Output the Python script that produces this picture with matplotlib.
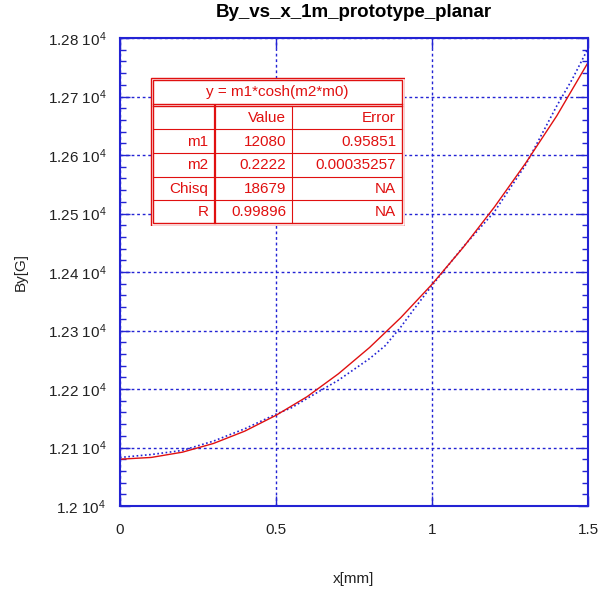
import matplotlib
matplotlib.use("Agg")
import matplotlib.pyplot as plt
from matplotlib.ticker import MultipleLocator, FuncFormatter

plt.rcParams["font.family"] = ["Liberation Sans", "DejaVu Sans"]
plt.rcParams["mathtext.fontset"] = "custom"
plt.rcParams["mathtext.rm"] = "Liberation Sans"
plt.rcParams["mathtext.default"] = "regular"

# measured field (blue dotted)
x_meas = [0.0, 0.1, 0.2, 0.3, 0.4, 0.5, 0.55, 0.6, 0.7, 0.8, 0.85, 0.9, 0.95,
          1.0, 1.1, 1.2, 1.3, 1.4, 1.45, 1.5]
by_meas = [12083, 12088, 12095, 12111, 12132, 12157, 12168, 12184, 12215,
           12252, 12274, 12306, 12342, 12377, 12443, 12503, 12583, 12684,
           12730, 12782]

# fitted curve (red)
x_fit = [0.0, 0.1, 0.2, 0.3, 0.4, 0.5, 0.6, 0.7, 0.8, 0.9, 1.0, 1.1, 1.2,
         1.3, 1.4, 1.5]
by_fit = [12080, 12083, 12092, 12107, 12128, 12155, 12187, 12226, 12271,
          12322, 12379, 12442, 12511, 12586, 12667, 12758]

fit_title = "y = m1*cosh(m2*m0)"
col_heads = ["", "Value", "Error"]
row_names = ["m1", "m2", "Chisq", "R"]
row_values = ["12080", "0.2222", "18679", "0.99896"]
row_errors = ["0.95851", "0.00035257", "NA", "NA"]

BLUE = "#2323d4"
RED = "#e01010"

W, H = 599, 592
fig = plt.figure(figsize=(W / 100, H / 100), dpi=100)
ax = fig.add_axes([120 / W, (H - 506) / H, 468 / W, 468 / H])

ax.plot(x_meas, by_meas, color=BLUE, lw=1.2, linestyle=(0, (1, 1.5)))
ax.plot(x_fit, by_fit, color=RED, lw=1.0)

ax.set_xlim(0, 1.5)
ax.set_ylim(12000, 12800)
ax.xaxis.set_major_locator(MultipleLocator(0.5))
ax.yaxis.set_major_locator(MultipleLocator(100))
ax.yaxis.set_minor_locator(MultipleLocator(20))
ax.xaxis.set_major_formatter(FuncFormatter(lambda v, p: f"{v:g}"))
ax.yaxis.set_major_formatter(FuncFormatter(lambda v, p: f"{v / 1e4:g} 10$^{{4}}$"))

ax.tick_params(which="both", direction="in", top=True, right=True,
               color=BLUE, labelsize=11, labelcolor="#222222")
ax.tick_params(which="major", length=7, width=1)
ax.tick_params(which="minor", length=4, width=1)
ax.tick_params(axis="y", pad=10)
ax.tick_params(axis="x", pad=12)
for s in ax.spines.values():
    s.set_color(BLUE)
    s.set_linewidth(1.5)

ax.grid(True, which="major", color=BLUE, linestyle=(0, (2, 2)), lw=1)

ax.set_title("By_vs_x_1m_prototype_planar", fontsize=13.5, fontweight="bold",
             pad=15)
ax.set_xlabel("x[mm]", fontsize=11, color="#222222")
ax.set_ylabel("By[G]", fontsize=11, color="#222222")
ax.xaxis.set_label_coords(0.5, -0.141)
ax.yaxis.set_label_coords(-0.197, 0.5)

# fit result table, drawn in pixel units
tx = fig.add_axes([150 / W, 1 - 226 / H, 255 / W, 149 / H])
tx.set_xlim(0, 255)
tx.set_ylim(149, 0)
tx.axis("off")
tx.add_patch(plt.Rectangle((0.5, 0.5), 254, 148, fc="white", ec=RED, lw=1))
tx.add_patch(plt.Rectangle((3, 3), 249, 143, fc="none", ec=RED, lw=1))
tx.plot([3, 252], [26.5, 26.5], color=RED, lw=1)
tx.plot([3, 252], [29, 29], color=RED, lw=1)
row_y = [29, 52.3, 75.7, 99.7, 123, 146]
for yy in row_y[1:-1]:
    tx.plot([3, 252], [yy, yy], color=RED, lw=0.8)
tx.plot([65, 65], [29, 146], color=RED, lw=1.6)
tx.plot([142.3, 142.3], [29, 146], color=RED, lw=0.8)

tx.text(127.5, 15, fit_title, color=RED, fontsize=11, ha="center", va="center")
rows = [col_heads] + [[n, v, e] for n, v, e in zip(row_names, row_values, row_errors)]
col_right = [58.5, 136, 246]
for i, row in enumerate(rows):
    yc = (row_y[i] + row_y[i + 1]) / 2
    for j, cell in enumerate(row):
        tx.text(col_right[j], yc + 0.5, cell, color=RED, fontsize=11,
                ha="right", va="center")

fig.savefig("out.png", dpi=100)
